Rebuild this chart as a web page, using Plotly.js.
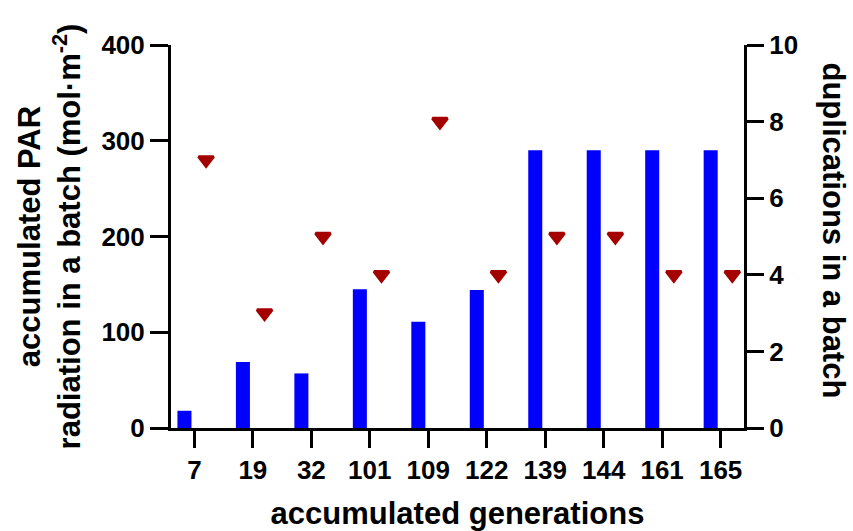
<!DOCTYPE html>
<html>
<head>
<meta charset="utf-8">
<script src="https://cdn.plot.ly/plotly-3.0.1.min.js"></script>
<style>html,body{margin:0;padding:0;background:#fff;}#chart{width:853px;height:531px;}</style>
</head>
<body>
<div id="chart"></div>
<script>
const generations = ["7", "19", "32", "101", "109", "122", "139", "144", "161", "165"];
const parRadiation = [18, 69, 57, 145, 111, 144, 290, 290, 290, 290];
const duplications = [7, 3, 5, 4, 8, 4, 5, 5, 4, 4];

const idx = generations.map((_, i) => i);
const FONT = "Liberation Sans, Arial, sans-serif";

const bars = {
  type: "bar",
  x: idx.map(i => i - 0.17),
  y: parRadiation,
  width: 0.24,
  marker: {color: "#0000ff", line: {width: 0}},
  yaxis: "y",
  hoverinfo: "y"
};
const tri = {
  type: "scatter",
  mode: "markers",
  x: idx.map(i => i + 0.2),
  y: duplications,
  yaxis: "y2",
  marker: {symbol: "triangle-down", size: 13, color: "#a50000", line: {color: "#a50000", width: 3}},
  hoverinfo: "y"
};

const axFont = {family: FONT, size: 26, color: "#000", weight: "bold"};
const titleFont = {family: FONT, size: 31, color: "#000", weight: "bold"};

const layout = {
  width: 853, height: 531,
  margin: {l: 171, r: 109, t: 45, b: 103},
  paper_bgcolor: "#fff", plot_bgcolor: "#fff",
  showlegend: false,
  xaxis: {
    range: [-0.4, 9.4],
    tickmode: "array", tickvals: idx, ticktext: generations,
    showgrid: false, zeroline: false,
    showline: true, linecolor: "#000", linewidth: 3,
    ticks: "outside", ticklen: 17, tickwidth: 3, tickcolor: "#000",
    tickfont: axFont,
    title: {text: "accumulated generations", font: titleFont, standoff: 19}
  },
  yaxis: {
    range: [0, 400], dtick: 100, tick0: 0,
    showgrid: false, zeroline: false,
    showline: true, linecolor: "#000", linewidth: 3,
    ticks: "outside", ticklen: 18, tickwidth: 3, tickcolor: "#000",
    tickfont: axFont,
    title: {text: "accumulated PAR<br>radiation in a batch (mol·m<sup>-2</sup>)", font: titleFont, standoff: 12}
  },
  yaxis2: {
    range: [0, 10], dtick: 2, tick0: 0,
    overlaying: "y", side: "right",
    showgrid: false, zeroline: false,
    showline: true, linecolor: "#000", linewidth: 3,
    ticks: "outside", ticklen: 17, tickwidth: 3, tickcolor: "#000",
    tickfont: axFont
  },
  annotations: [{
    text: "duplications in a batch",
    xref: "paper", yref: "paper", x: 1, y: 0.5,
    xshift: 89, yshift: 6, xanchor: "center", yanchor: "middle",
    textangle: 90, showarrow: false, font: titleFont, borderpad: 0
  }]
};

Plotly.newPlot("chart", [bars, tri], layout, {displayModeBar: false, staticPlot: true});
</script>
</body>
</html>
